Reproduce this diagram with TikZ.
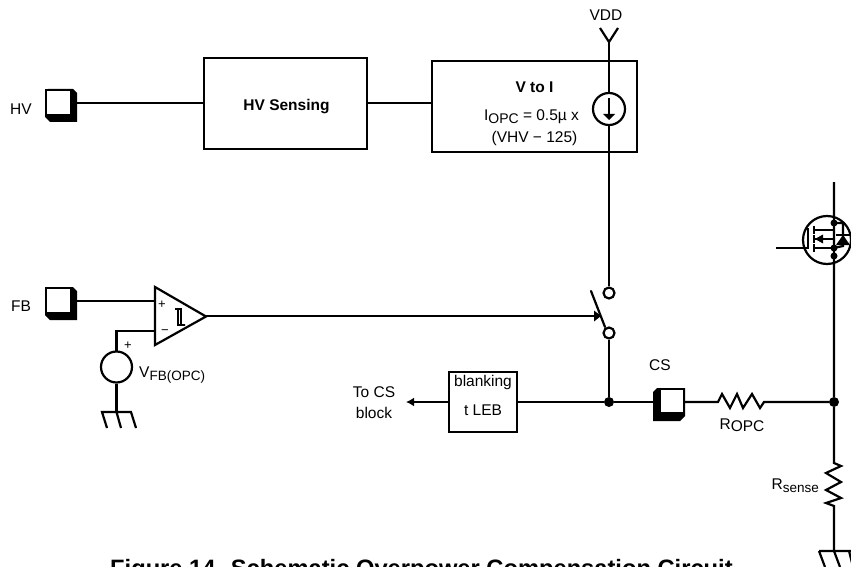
\documentclass[tikz,border=0pt]{standalone}
\usepackage{fontspec}
\setmainfont{Liberation Sans}
\usetikzlibrary{arrows.meta}
\newcommand{\fs}[1]{\fontsize{#1}{#1}\selectfont}
\newcommand{\fsb}{\fontsize{15.5}{21}\selectfont}
\tikzset{
 wire/.style={line width=2.2pt},
 boxn/.style={draw,line width=2.2pt,inner sep=0pt,fill=white},
 lbl/.style={inner sep=0pt,font=\fs{15.5}},
 term/.style={circle,draw,line width=2.2pt,fill=white,minimum size=11pt,inner sep=0pt},
 jdot/.style={circle,fill=black,minimum size=10pt,inner sep=0pt},
 padwhite/.style={draw,line width=1.6pt,fill=white},
}
\begin{document}
\begin{tikzpicture}[x=1pt,y=-1pt,line join=miter]
\useasboundingbox (0,0) rectangle (851,567);
\clip (0,0) rectangle (851,567);
% coordinates
\coordinate (hvO) at (77,103);
\coordinate (fbO) at (77,301);
\coordinate (csI) at (653,402);
\coordinate (csO) at (685,402);
\coordinate (vddT) at (609,42);
\coordinate (rS) at (718,402);
\coordinate (rE) at (764,402);
\coordinate (rsT) at (834,463);
\coordinate (rsB) at (834,506);
\coordinate (gndR) at (834,551);
\coordinate (gndL) at (116.5,412);
\coordinate (plusIn) at (155,301);
\coordinate (minusIn) at (155,331);
\coordinate (cmpOut) at (206,316);
\coordinate (swTip) at (601,316);
\coordinate (toCS) at (406,402);
\coordinate (drainT) at (834,182);
\coordinate (gateL) at (776,248);
% boxes
\node[boxn,minimum width=163pt,minimum height=91pt] (hvs) at (285.5,103.5) {};
\node[lbl] (hvsT) at (286.5,107) {\fs{15.5}\bfseries HV Sensing};
\node[boxn,minimum width=205pt,minimum height=91pt] (v2i) at (534.5,106.5) {};
\node[boxn,minimum width=68pt,minimum height=60pt,align=center] (blank) at (483,402) {};
\node[lbl] at (483,382) {blanking};
\node[lbl] at (483,410) {t LEB};
\node[lbl] (v2iT) at (534.5,87.5) {\fs{15.5}\bfseries V to I};
\node[lbl] (v2iA) at (531.5,117) {I\raisebox{-3pt}{\fs{14}OPC} = 0.5\textmu{} x};
\node[lbl] (v2iB) at (534.5,138) {(VHV − 125)};
% wires top
\draw[wire] (hvO) -- (hvs.west |- hvO);
\draw[wire] (hvs.east |- hvO) -- (v2i.west |- hvO);
\draw[wire] (600,28) -- (vddT) -- (618,28);
\node[term,minimum size=32pt] (isrc) at (609,109) {};
\node[term] (swU) at (609,293) {};
\node[term] (swL) at (609,333) {};
\node[jdot] (j1) at (609,402) {};
\node[jdot] (j2) at (834,402) {};
\node[lbl] at (606,15) {VDD};
\draw[wire] (vddT) -- (isrc);
\draw[wire] (isrc) -- (swU);
\draw[wire] (swL) -- (j1);
\draw[wire] (609,98) -- (609,118);
\fill (603,114) -- (615,114) -- (609,120) -- cycle;
\draw[wire,line cap=round] (591,291) -- (605,327);
% comparator
\draw[wire,fill=white] (155,287) -- (206,316.5) -- (155,345) -- cycle;
\draw[wire] (fbO) -- (plusIn);
\draw[wire] (minusIn) -- (116.5,331) -- (116.5,351);
\draw[wire] (cmpOut) -- (595,316);
\fill (601,316) -- (594,310.5) -- (594,321.5) -- cycle;
\node[lbl,font=\fs{13}] at (162,305) {+};
\node[lbl,font=\fs{13}] at (165,332) {−};
\draw[line width=1.6pt] (175,309) -- (181,309) -- (181,325) -- (185,325) -- (178,325) -- (178,309);
% source
\node[term,minimum size=31pt] (vs) at (116.5,367) {};
\draw[wire] (vs) -- (gndL);
\node[lbl,font=\fs{13}] at (128,346) {+};
\node[lbl,anchor=west] at (139,375) {V\raisebox{-3pt}{\fs{13.5}FB(OPC)}};
% ground left
\draw[wire] (107,428) -- (102,412) -- (131,412) -- (136,428) (116.5,412) -- (121,428);
% pads
\fill (45,92) -- (48,89) -- (73,89) -- (77,93) -- (77,122) -- (50,122) -- (45,117) -- cycle;
\draw[padwhite] (46,90) rectangle (71,115);
\fill (45,290) -- (48,287) -- (73,287) -- (77,291) -- (77,320) -- (50,320) -- (45,315) -- cycle;
\draw[padwhite] (46,288) rectangle (71,313);
\fill (653,392) -- (657,388) -- (685,388) -- (685,416) -- (680,421) -- (653,421) -- cycle;
\draw[padwhite] (660,389) rectangle (684,413);
\node[lbl] at (21,109) {HV};
\node[lbl] at (21,306) {FB};
\node[lbl] at (660,365) {CS};
% blank wires
\draw[wire,-{Latex[length=8pt,width=9pt]}] (blank.west) -- (toCS);
\draw[wire] (blank.east) -- (j1) -- (csI);
\node[lbl,align=center,font=\fsb] at (374,402.5) {To CS\\block};
% ROPC
\draw[wire] (csO) -- (rS) -- (722,394) -- (730,408) -- (737,394) -- (743,408) -- (752,394) -- (760,408) -- (rE) -- (j2);
\node[lbl] at (742,425) {R\raisebox{-2pt}{OPC}};
% Rsense
\draw[wire] (drainT) -- (j2) -- (rsT) -- (841,466) -- (826,473) -- (841,482) -- (826,490) -- (841,498) -- (826,503) -- (rsB) -- (gndR);
\node[lbl,anchor=east] at (819,486) {R\raisebox{-3pt}{\fs{13.5}sense}};
% right ground
\draw[wire] (819,551) -- (851,551) (819,551) -- (825,567) (834,551) -- (840,567) (849,551) -- (853,567);
% MOSFET
\draw[wire] (827,240) circle (24);
\draw[wire] (gateL) -- (808,248) -- (808,228);
\draw[wire] (814,226) -- (814,234) (814,235) -- (814,243) (814,244) -- (814,252);
\draw[wire] (814,230) -- (834,230) (814,248) -- (834,248) (814,239) -- (834,239);
\fill (815,239) -- (823,234.5) -- (823,243.5) -- cycle;
\fill (834,223) circle (3.5) (834,248) circle (3.5) (834,256) circle (3.5);
\draw[wire] (834,223) -- (843,223) -- (843,246) -- (834,248);
\fill (843,235) -- (850,245) -- (836,245) -- cycle;
\draw[wire] (836,235) -- (850,235);
% caption
\node[inner sep=0pt,anchor=base west,font=\fs{23.7}\bfseries] at (110,576) {Figure 14. Schematic Overpower Compensation Circuit};
\end{tikzpicture}
\end{document}
